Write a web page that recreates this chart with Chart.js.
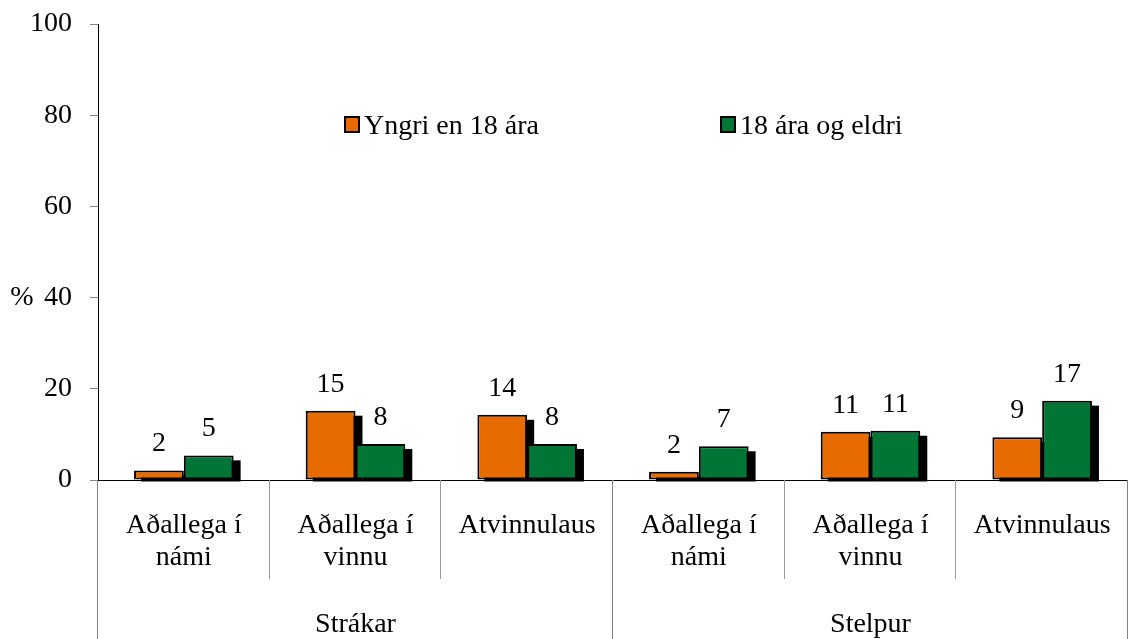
<!DOCTYPE html>
<html>
<head>
<meta charset="utf-8">
<script src="https://cdn.jsdelivr.net/npm/chart.js@4.4.0/dist/chart.umd.min.js"></script>
<style>
  html, body { margin: 0; padding: 0; background: #fff; }
  #wrap { width: 1128px; height: 639px; }
</style>
</head>
<body>
<div id="wrap"><canvas id="chart" width="1128" height="639"></canvas></div>
<script>
// data
const categories = [["Aðallega í", "námi"], ["Aðallega í", "vinnu"], "Atvinnulaus",
                    ["Aðallega í", "námi"], ["Aðallega í", "vinnu"], "Atvinnulaus"];
const groups = ["Strákar", "Stelpur"];
const groupSize = 3;
const seriesNames = ["Yngri en 18 ára", "18 ára og eldri"];
const yngri = [2.1, 15.2, 14.3, 1.8, 10.6, 9.4];
const eldri = [5.4, 7.9, 7.9, 7.4, 10.8, 17.4];
const yTicks = [0, 20, 40, 60, 80, 100];

const FONT = '"Liberation Serif", "Times New Roman", serif';
Chart.defaults.font.family = FONT;
Chart.defaults.font.size = 28;
Chart.defaults.color = '#000';

// black drop shadow behind each bar
const barShadow = {
  id: 'barShadow',
  beforeDatasetsDraw(chart) {
    const ctx = chart.ctx;
    ctx.save();
    ctx.fillStyle = '#000';
    chart.data.datasets.forEach((ds, i) => {
      chart.getDatasetMeta(i).data.forEach(bar => {
        const p = bar.getProps(['x', 'y', 'base', 'width'], true);
        ctx.fillRect(p.x - p.width / 2 + 7, p.y + 5, p.width, p.base - p.y - 3);
      });
    });
    ctx.restore();
  }
};

// value labels above bars
const valueLabels = {
  id: 'valueLabels',
  afterDatasetsDraw(chart) {
    const ctx = chart.ctx;
    ctx.save();
    ctx.font = '28px ' + FONT;
    ctx.fillStyle = '#000';
    ctx.textAlign = 'center';
    ctx.textBaseline = 'alphabetic';
    chart.data.datasets.forEach((ds, i) => {
      chart.getDatasetMeta(i).data.forEach((bar, j) => {
        ctx.fillText(String(Math.round(ds.data[j])), bar.x, bar.y - 19);
      });
    });
    ctx.restore();
  }
};

// category dividers, group labels, legend and the % sign
const extras = {
  id: 'extras',
  afterDraw(chart) {
    const ctx = chart.ctx;
    const xs = chart.scales.x;
    const ys = chart.scales.y;
    const bottom = chart.chartArea.bottom;
    const n = categories.length;
    ctx.save();
    ctx.lineWidth = 1;
    for (let i = 0; i <= n; i++) {
      let px;
      if (i === 0) px = xs.left;
      else if (i === n) px = xs.right;
      else px = (xs.getPixelForTick(i - 1) + xs.getPixelForTick(i)) / 2;
      const outer = i % groupSize === 0;
      px = Math.round(px) - 0.5;
      ctx.strokeStyle = outer ? '#808080' : '#999';
      ctx.beginPath();
      ctx.moveTo(px, bottom);
      ctx.lineTo(px, outer ? chart.height : bottom + 99);
      ctx.stroke();
    }

    ctx.font = '28px ' + FONT;
    ctx.fillStyle = '#000';
    ctx.textAlign = 'center';
    ctx.textBaseline = 'alphabetic';
    groups.forEach((g, k) => {
      const a = xs.getPixelForTick(k * groupSize);
      const b = xs.getPixelForTick(k * groupSize + groupSize - 1);
      ctx.fillText(g, (a + b) / 2, bottom + 152);
    });

    ctx.textBaseline = 'middle';
    ctx.fillText('%', 22, ys.getPixelForValue(40));

    // legend inside the plot
    const legendX = [345, 721];
    ctx.textAlign = 'left';
    ctx.textBaseline = 'alphabetic';
    chart.data.datasets.forEach((ds, i) => {
      const bx = legendX[i];
      ctx.fillStyle = ds.backgroundColor;
      ctx.fillRect(bx, 117, 14, 15);
      ctx.strokeStyle = '#000';
      ctx.lineWidth = 2;
      ctx.strokeRect(bx, 117, 14, 15);
      ctx.fillStyle = '#000';
      ctx.fillText(ds.label, bx + 19, 134);
    });
    ctx.restore();
  }
};

new Chart(document.getElementById('chart'), {
  type: 'bar',
  data: {
    labels: categories,
    datasets: [
      { label: seriesNames[0], data: yngri, backgroundColor: '#E86B00' },
      { label: seriesNames[1], data: eldri, backgroundColor: '#007535' }
    ]
  },
  options: {
    responsive: false,
    animation: false,
    devicePixelRatio: 1,
    layout: { padding: { top: 24, right: -4, left: 0, bottom: 0 } },
    datasets: {
      bar: {
        borderColor: '#000',
        borderWidth: 2,
        borderSkipped: false,
        barPercentage: 1,
        categoryPercentage: 0.58
      }
    },
    plugins: {
      legend: { display: false },
      tooltip: { enabled: false }
    },
    scales: {
      x: {
        grid: { display: false },
        border: { display: true, color: '#000', width: 1 },
        ticks: { padding: 22, maxRotation: 0, autoSkip: false, color: '#000',
                 font: { size: 28, lineHeight: 32 / 28 } },
        afterFit(s) {
          s.height = 159;
          s.paddingLeft = 0;
          s.paddingRight = 0;
        }
      },
      y: {
        min: 0,
        max: 100,
        afterBuildTicks(s) { s.ticks = yTicks.map(v => ({ value: v })); },
        grid: { drawOnChartArea: false, tickLength: 8, color: '#888' },
        border: { color: '#000', width: 1 },
        ticks: { padding: 18, color: '#000', font: { size: 28 } },
        afterFit(s) {
          s.width = 98;
          s.paddingTop = 0;
          s.paddingBottom = 0;
        }
      }
    }
  },
  plugins: [barShadow, valueLabels, extras]
});
</script>
</body>
</html>
